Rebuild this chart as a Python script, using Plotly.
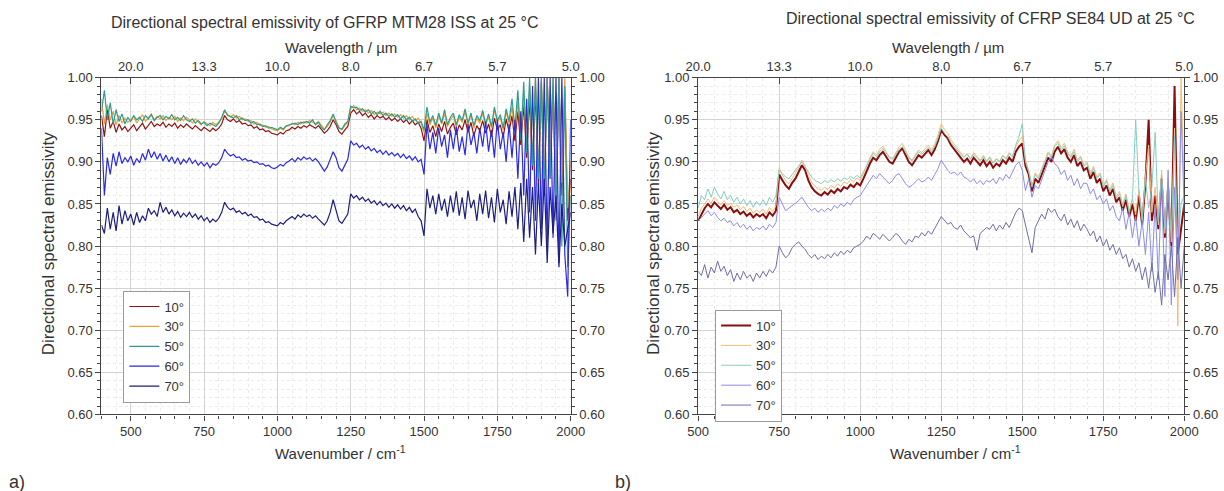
import plotly.graph_objects as go

# ---------------- data ----------------
wn_a = list(range(400, 2001, 10))
wn_b = list(range(500, 2001, 10))
angles = ["10°", "30°", "50°", "60°", "70°"]
wavelength_ticks = [500, 750, 1000, 1250, 1500, 1750, 2000]
wavelength_text = ["20.0", "13.3", "10.0", "8.0", "6.7", "5.7", "5.0"]
wavenumber_ticks = [500, 750, 1000, 1250, 1500, 1750, 2000]

a_10 = [0.955, 0.930, 0.962, 0.940, 0.948, 0.935, 0.945, 0.938, 0.942, 0.936,
        0.940, 0.944, 0.937, 0.941, 0.946, 0.939, 0.943, 0.948, 0.942, 0.945,
        0.943, 0.947, 0.941, 0.945, 0.942, 0.946, 0.940, 0.944, 0.941, 0.945,
        0.942, 0.939, 0.943, 0.940, 0.937, 0.941, 0.938, 0.936, 0.940, 0.937,
        0.940, 0.945, 0.955, 0.950, 0.948, 0.951, 0.947, 0.949, 0.945, 0.946,
        0.943, 0.944, 0.940, 0.942, 0.938, 0.939, 0.936, 0.937, 0.934, 0.933,
        0.932, 0.935, 0.933, 0.937, 0.938, 0.941, 0.939, 0.942, 0.940, 0.943,
        0.941, 0.944, 0.942, 0.940, 0.943, 0.939, 0.934, 0.937, 0.942, 0.950,
        0.944, 0.936, 0.933, 0.938, 0.942, 0.958, 0.962, 0.957, 0.960, 0.955,
        0.958, 0.953, 0.956, 0.951, 0.955, 0.952, 0.954, 0.950, 0.953, 0.949,
        0.952, 0.948, 0.951, 0.947, 0.950, 0.945, 0.949, 0.944, 0.947, 0.940,
        0.925, 0.950, 0.935, 0.943, 0.930, 0.945, 0.936, 0.948, 0.933, 0.941,
        0.946, 0.932, 0.944, 0.938, 0.950, 0.935, 0.947, 0.931, 0.943, 0.937,
        0.949, 0.934, 0.945, 0.930, 0.952, 0.938, 0.944, 0.929, 0.951, 0.936,
        0.955, 0.925, 0.960, 0.920, 0.968, 0.905, 0.975, 0.890, 0.985, 0.870,
        0.995, 0.860, 1.000, 0.880, 0.990, 0.840, 1.000, 0.860, 0.985, 0.830,
        0.880]
a_30 = [0.975, 0.945, 0.968, 0.950, 0.960, 0.944, 0.955, 0.946, 0.952, 0.947,
        0.950, 0.954, 0.946, 0.951, 0.956, 0.948, 0.953, 0.957, 0.950, 0.954,
        0.951, 0.955, 0.949, 0.953, 0.950, 0.954, 0.948, 0.952, 0.949, 0.953,
        0.950, 0.946, 0.951, 0.947, 0.944, 0.948, 0.945, 0.943, 0.947, 0.944,
        0.947, 0.951, 0.960, 0.956, 0.953, 0.956, 0.952, 0.954, 0.950, 0.951,
        0.948, 0.949, 0.945, 0.947, 0.943, 0.944, 0.941, 0.942, 0.939, 0.938,
        0.937, 0.940, 0.938, 0.942, 0.943, 0.946, 0.944, 0.947, 0.945, 0.948,
        0.946, 0.949, 0.947, 0.945, 0.948, 0.944, 0.939, 0.942, 0.947, 0.955,
        0.949, 0.941, 0.938, 0.943, 0.947, 0.963, 0.967, 0.962, 0.964, 0.960,
        0.962, 0.958, 0.961, 0.956, 0.959, 0.957, 0.959, 0.955, 0.958, 0.954,
        0.957, 0.953, 0.956, 0.952, 0.955, 0.950, 0.954, 0.949, 0.952, 0.946,
        0.935, 0.958, 0.944, 0.952, 0.940, 0.955, 0.945, 0.957, 0.942, 0.950,
        0.955, 0.941, 0.953, 0.947, 0.960, 0.944, 0.956, 0.940, 0.952, 0.946,
        0.958, 0.943, 0.954, 0.940, 0.962, 0.947, 0.953, 0.938, 0.960, 0.945,
        0.965, 0.935, 0.972, 0.930, 0.980, 0.915, 0.990, 0.900, 1.000, 0.885,
        1.000, 0.870, 1.000, 0.895, 1.000, 0.850, 1.000, 0.875, 1.000, 0.845,
        0.900]
a_50 = [0.960, 0.985, 0.950, 0.970, 0.945, 0.962, 0.948, 0.957, 0.945, 0.953,
        0.948, 0.955, 0.950, 0.953, 0.948, 0.955, 0.951, 0.956, 0.949, 0.953,
        0.955, 0.950, 0.954, 0.951, 0.956, 0.950, 0.953, 0.949, 0.955, 0.950,
        0.948, 0.951, 0.946, 0.949, 0.945, 0.947, 0.943, 0.946, 0.944, 0.942,
        0.946, 0.953, 0.962, 0.955, 0.954, 0.952, 0.955, 0.950, 0.952, 0.949,
        0.950, 0.946, 0.948, 0.944, 0.945, 0.942, 0.943, 0.940, 0.941, 0.939,
        0.938, 0.941, 0.939, 0.943, 0.944, 0.945, 0.946, 0.944, 0.947, 0.946,
        0.948, 0.946, 0.950, 0.944, 0.947, 0.941, 0.938, 0.944, 0.949, 0.957,
        0.947, 0.940, 0.939, 0.945, 0.948, 0.966, 0.964, 0.965, 0.961, 0.963,
        0.959, 0.962, 0.957, 0.960, 0.956, 0.960, 0.955, 0.958, 0.954, 0.957,
        0.953, 0.956, 0.951, 0.955, 0.950, 0.953, 0.948, 0.951, 0.946, 0.948,
        0.938, 0.965, 0.947, 0.955, 0.943, 0.958, 0.946, 0.962, 0.944, 0.953,
        0.958, 0.944, 0.956, 0.949, 0.963, 0.946, 0.958, 0.943, 0.955, 0.949,
        0.961, 0.945, 0.957, 0.942, 0.965, 0.949, 0.956, 0.940, 0.963, 0.948,
        0.975, 0.940, 0.985, 0.925, 0.995, 0.910, 1.000, 0.895, 1.000, 0.880,
        1.000, 0.865, 1.000, 0.880, 1.000, 0.830, 1.000, 0.800, 0.990, 0.775,
        0.860]
a_60 = [0.940, 0.860, 0.905, 0.885, 0.910, 0.895, 0.912, 0.898, 0.905, 0.900,
        0.907, 0.896, 0.904, 0.899, 0.910, 0.902, 0.915, 0.905, 0.912, 0.903,
        0.910, 0.901, 0.908, 0.900, 0.906, 0.898, 0.905, 0.897, 0.903, 0.899,
        0.905, 0.898, 0.902, 0.896, 0.900, 0.895, 0.899, 0.893, 0.898, 0.896,
        0.899, 0.905, 0.915, 0.910, 0.907, 0.909, 0.905, 0.906, 0.902, 0.904,
        0.901, 0.902, 0.899, 0.900, 0.897, 0.898, 0.895, 0.896, 0.893, 0.892,
        0.894, 0.897, 0.895, 0.899, 0.901, 0.904, 0.900, 0.905, 0.902, 0.906,
        0.903, 0.905, 0.901, 0.904, 0.900, 0.895, 0.889, 0.894, 0.903, 0.912,
        0.905, 0.893, 0.889, 0.896, 0.903, 0.925, 0.920, 0.922, 0.917, 0.920,
        0.915, 0.918, 0.913, 0.916, 0.911, 0.914, 0.909, 0.913, 0.908, 0.911,
        0.907, 0.910, 0.905, 0.909, 0.904, 0.907, 0.902, 0.906, 0.900, 0.903,
        0.885, 0.945, 0.915, 0.935, 0.910, 0.940, 0.918, 0.932, 0.905, 0.938,
        0.915, 0.942, 0.912, 0.930, 0.908, 0.945, 0.920, 0.935, 0.910, 0.940,
        0.918, 0.948, 0.912, 0.938, 0.905, 0.950, 0.915, 0.935, 0.900, 0.945,
        0.905, 0.950, 0.880, 0.960, 0.860, 0.975, 0.840, 0.990, 0.830, 1.000,
        0.820, 1.000, 0.800, 1.000, 0.810, 1.000, 0.780, 1.000, 0.790, 0.740,
        0.950]
a_70 = [0.825, 0.815, 0.845, 0.820, 0.840, 0.818, 0.848, 0.826, 0.842, 0.830,
        0.838, 0.825, 0.840, 0.828, 0.836, 0.830, 0.845, 0.838, 0.842, 0.835,
        0.852, 0.840, 0.846, 0.838, 0.843, 0.836, 0.841, 0.834, 0.839, 0.835,
        0.840, 0.834, 0.838, 0.832, 0.836, 0.830, 0.834, 0.828, 0.832, 0.829,
        0.833, 0.840, 0.852, 0.846, 0.843, 0.845, 0.840, 0.842, 0.838, 0.840,
        0.836, 0.838, 0.834, 0.835, 0.831, 0.832, 0.828, 0.829, 0.826, 0.825,
        0.824, 0.828, 0.826, 0.830, 0.832, 0.835, 0.832, 0.837, 0.834, 0.838,
        0.835, 0.837, 0.833, 0.836, 0.832, 0.828, 0.825, 0.830, 0.840, 0.855,
        0.842, 0.830, 0.827, 0.832, 0.838, 0.862, 0.857, 0.860, 0.855, 0.858,
        0.853, 0.856, 0.851, 0.854, 0.849, 0.853, 0.848, 0.851, 0.846, 0.850,
        0.845, 0.849, 0.844, 0.848, 0.842, 0.846, 0.840, 0.844, 0.835, 0.830,
        0.812, 0.868, 0.845, 0.860, 0.838, 0.862, 0.842, 0.856, 0.835, 0.860,
        0.840, 0.865, 0.836, 0.858, 0.832, 0.866, 0.845, 0.855, 0.830, 0.862,
        0.838, 0.866, 0.833, 0.858, 0.828, 0.868, 0.840, 0.855, 0.826, 0.865,
        0.835, 0.870, 0.820, 0.875, 0.805, 0.880, 0.810, 0.870, 0.790, 0.875,
        0.800, 0.880, 0.780, 0.870, 0.815, 0.860, 0.775, 0.850, 0.800, 0.820,
        0.840]

b_10 = [0.830, 0.838, 0.845, 0.850, 0.846, 0.852, 0.848, 0.844, 0.849, 0.843,
        0.846, 0.840, 0.843, 0.838, 0.841, 0.836, 0.839, 0.834, 0.838, 0.835,
        0.838, 0.833, 0.840, 0.836, 0.842, 0.885, 0.878, 0.872, 0.868, 0.875,
        0.880, 0.888, 0.896, 0.890, 0.878, 0.870, 0.865, 0.862, 0.860, 0.864,
        0.861, 0.866, 0.863, 0.868, 0.865, 0.870, 0.868, 0.873, 0.870, 0.875,
        0.872, 0.880, 0.890, 0.898, 0.905, 0.902, 0.908, 0.912, 0.906, 0.900,
        0.898, 0.905, 0.912, 0.916, 0.908, 0.900, 0.896, 0.902, 0.908, 0.905,
        0.910, 0.914, 0.908, 0.915, 0.925, 0.938, 0.932, 0.928, 0.920, 0.915,
        0.910, 0.905, 0.900, 0.904, 0.898, 0.905, 0.900, 0.896, 0.902, 0.895,
        0.900, 0.893, 0.898, 0.895, 0.902, 0.898, 0.905, 0.900, 0.912, 0.918,
        0.922, 0.895, 0.885, 0.865, 0.880, 0.875, 0.885, 0.895, 0.905, 0.900,
        0.912, 0.918, 0.910, 0.915, 0.905, 0.900, 0.908, 0.895, 0.900, 0.890,
        0.893, 0.880, 0.888, 0.875, 0.880, 0.865, 0.872, 0.860, 0.868, 0.852,
        0.858, 0.842, 0.855, 0.835, 0.850, 0.830, 0.860, 0.825, 0.875, 0.950,
        0.830, 0.860, 0.820, 0.880, 0.810, 0.870, 0.800, 0.990, 0.790, 0.820,
        0.850]
b_30 = [0.835, 0.845, 0.850, 0.856, 0.851, 0.858, 0.853, 0.849, 0.854, 0.848,
        0.851, 0.846, 0.849, 0.843, 0.847, 0.841, 0.845, 0.839, 0.843, 0.840,
        0.844, 0.838, 0.846, 0.841, 0.848, 0.893, 0.884, 0.878, 0.874, 0.880,
        0.886, 0.893, 0.902, 0.895, 0.884, 0.876, 0.871, 0.868, 0.866, 0.870,
        0.867, 0.872, 0.869, 0.874, 0.871, 0.876, 0.874, 0.879, 0.876, 0.881,
        0.878, 0.886, 0.896, 0.905, 0.912, 0.908, 0.915, 0.919, 0.912, 0.906,
        0.904, 0.911, 0.918, 0.922, 0.914, 0.906, 0.902, 0.908, 0.914, 0.911,
        0.916, 0.920, 0.914, 0.921, 0.932, 0.945, 0.938, 0.934, 0.926, 0.921,
        0.916, 0.911, 0.906, 0.910, 0.904, 0.911, 0.906, 0.902, 0.908, 0.901,
        0.906, 0.899, 0.904, 0.901, 0.908, 0.904, 0.911, 0.906, 0.918, 0.925,
        0.930, 0.902, 0.890, 0.872, 0.887, 0.882, 0.892, 0.903, 0.912, 0.907,
        0.920, 0.925, 0.917, 0.922, 0.912, 0.907, 0.915, 0.902, 0.907, 0.897,
        0.900, 0.887, 0.895, 0.882, 0.887, 0.872, 0.879, 0.867, 0.875, 0.859,
        0.865, 0.849, 0.862, 0.842, 0.857, 0.837, 0.867, 0.832, 0.882, 0.920,
        0.840, 0.870, 0.825, 0.890, 0.815, 0.880, 0.805, 0.940, 0.705, 1.000,
        0.860]
b_50 = [0.845, 0.860, 0.855, 0.868, 0.858, 0.870, 0.862, 0.856, 0.865, 0.855,
        0.860, 0.852, 0.858, 0.850, 0.856, 0.848, 0.854, 0.846, 0.853, 0.848,
        0.855, 0.848, 0.858, 0.852, 0.860, 0.890, 0.886, 0.882, 0.880, 0.885,
        0.890, 0.895, 0.900, 0.894, 0.888, 0.882, 0.878, 0.876, 0.874, 0.878,
        0.875, 0.879, 0.876, 0.880, 0.877, 0.881, 0.879, 0.883, 0.880, 0.884,
        0.881, 0.888, 0.896, 0.903, 0.910, 0.906, 0.912, 0.916, 0.910, 0.905,
        0.903, 0.909, 0.915, 0.918, 0.911, 0.905, 0.901, 0.906, 0.912, 0.909,
        0.913, 0.917, 0.912, 0.918, 0.928, 0.940, 0.934, 0.930, 0.923, 0.918,
        0.914, 0.909, 0.905, 0.909, 0.903, 0.909, 0.905, 0.901, 0.906, 0.900,
        0.905, 0.898, 0.903, 0.900, 0.907, 0.903, 0.910, 0.906, 0.920, 0.930,
        0.945, 0.900, 0.888, 0.870, 0.885, 0.880, 0.890, 0.900, 0.910, 0.905,
        0.918, 0.922, 0.914, 0.919, 0.910, 0.905, 0.912, 0.900, 0.905, 0.895,
        0.898, 0.885, 0.892, 0.880, 0.885, 0.870, 0.877, 0.865, 0.872, 0.857,
        0.862, 0.847, 0.860, 0.840, 0.855, 0.950, 0.865, 0.830, 0.880, 0.845,
        0.870, 0.935, 0.830, 0.885, 0.820, 0.875, 0.810, 0.930, 0.800, 0.850,
        0.860]
b_60 = [0.830, 0.834, 0.838, 0.842, 0.836, 0.840, 0.834, 0.830, 0.833, 0.828,
        0.830, 0.824, 0.828, 0.822, 0.826, 0.820, 0.824, 0.818, 0.822, 0.820,
        0.824, 0.819, 0.826, 0.822, 0.828, 0.858, 0.850, 0.842, 0.845, 0.848,
        0.850, 0.854, 0.858, 0.852, 0.846, 0.842, 0.845, 0.840, 0.844, 0.841,
        0.845, 0.842, 0.848, 0.845, 0.850, 0.847, 0.852, 0.849, 0.855, 0.858,
        0.860, 0.866, 0.872, 0.878, 0.884, 0.880, 0.886, 0.882, 0.878, 0.874,
        0.878, 0.884, 0.886, 0.880, 0.874, 0.870, 0.872, 0.876, 0.880, 0.876,
        0.878, 0.882, 0.878, 0.885, 0.892, 0.902, 0.896, 0.890, 0.886, 0.888,
        0.884, 0.888, 0.882, 0.880, 0.876, 0.880, 0.874, 0.878, 0.873, 0.878,
        0.876, 0.880, 0.874, 0.882, 0.878, 0.885, 0.880, 0.888, 0.896, 0.900,
        0.890, 0.866, 0.880, 0.858, 0.872, 0.868, 0.878, 0.888, 0.900, 0.906,
        0.898, 0.894, 0.885, 0.890, 0.878, 0.884, 0.872, 0.880, 0.868, 0.875,
        0.874, 0.862, 0.868, 0.855, 0.860, 0.850, 0.856, 0.842, 0.848, 0.835,
        0.830, 0.845, 0.820, 0.840, 0.810, 0.835, 0.800, 0.830, 0.790, 0.840,
        0.770, 0.850, 0.760, 0.880, 0.740, 0.890, 0.730, 0.870, 0.760, 0.960,
        0.840]
b_70 = [0.770, 0.765, 0.778, 0.762, 0.775, 0.768, 0.782, 0.770, 0.776, 0.765,
        0.772, 0.758, 0.768, 0.760, 0.770, 0.762, 0.766, 0.758, 0.768, 0.762,
        0.770, 0.764, 0.772, 0.768, 0.775, 0.800, 0.792, 0.786, 0.790, 0.798,
        0.802, 0.805, 0.800, 0.796, 0.790, 0.786, 0.790, 0.784, 0.788, 0.785,
        0.790, 0.786, 0.792, 0.788, 0.794, 0.790, 0.795, 0.792, 0.798, 0.800,
        0.802, 0.806, 0.812, 0.808, 0.815, 0.812, 0.808, 0.814, 0.810, 0.806,
        0.810, 0.815, 0.812, 0.806, 0.802, 0.808, 0.805, 0.812, 0.810, 0.816,
        0.812, 0.818, 0.814, 0.822, 0.828, 0.835, 0.830, 0.826, 0.828, 0.822,
        0.820, 0.825, 0.818, 0.814, 0.810, 0.812, 0.795, 0.815, 0.818, 0.822,
        0.820, 0.826, 0.818, 0.825, 0.820, 0.828, 0.822, 0.832, 0.840, 0.845,
        0.842, 0.825, 0.810, 0.792, 0.822, 0.830, 0.838, 0.832, 0.845, 0.840,
        0.844, 0.835, 0.830, 0.838, 0.825, 0.832, 0.822, 0.830, 0.818, 0.826,
        0.820, 0.812, 0.818, 0.805, 0.812, 0.800, 0.808, 0.795, 0.802, 0.790,
        0.798, 0.785, 0.790, 0.775, 0.785, 0.770, 0.780, 0.760, 0.775, 0.750,
        0.780, 0.745, 0.770, 0.730, 0.790, 0.760, 0.800, 0.740, 0.810, 0.750,
        0.800]

series_a = [a_10, a_30, a_50, a_60, a_70]
series_b = [b_10, b_30, b_50, b_60, b_70]

# ---------------- style ----------------
FONT = "Liberation Sans, Arial, sans-serif"
colors_a = ["#8E1414", "#F0A030", "#2E9C92", "#2A2AE0", "#1E1E7C"]
colors_b = ["#8A0E0E", "#F3BB78", "#86CDBF", "#8C8CE6", "#6E6EA6"]
widths_a = [1.2, 1.2, 1.2, 1.2, 1.2]
widths_b = [2.0, 1.0, 1.0, 1.0, 1.0]

W, H = 1224, 491


def fx(p):
    """target pixel column -> paper x (small empirical correction)"""
    return ((p - 9.2) / 0.9817) / W


def fy(p):
    """target pixel row (from top) -> paper y (small empirical correction)"""
    return (H - (p - 6.3) / 0.970) / H


fig = go.Figure()
for name, ys, c, w in zip(angles, series_a, colors_a, widths_a):
    fig.add_trace(go.Scatter(x=wn_a, y=ys, mode="lines", name=name,
                             line=dict(color=c, width=w),
                             xaxis="x", yaxis="y", legend="legend"))
for name, ys, c, w in zip(angles, series_b, colors_b, widths_b):
    fig.add_trace(go.Scatter(x=wn_b, y=ys, mode="lines", name=name,
                             line=dict(color=c, width=w),
                             xaxis="x2", yaxis="y2", legend="legend2"))

# invisible helpers so the secondary (top/right) axes are drawn
for xa, ya in [("x3", "y"), ("x4", "y2"), ("x", "y3"), ("x2", "y4")]:
    fig.add_trace(go.Scatter(x=[None], y=[None], xaxis=xa, yaxis=ya,
                             showlegend=False, hoverinfo="skip"))

xdom_a = [fx(98), fx(569)]
xdom_b = [fx(697), fx(1185)]
ydom = [fy(414), fy(77)]

tickfont = dict(family=FONT, size=13, color="#333")
line_col = "#444"
grid_major = "#D4D4D4"
grid_minor = "#EBEBEB"


def xbottom(dom, rng, anchor):
    return dict(domain=dom, range=rng, anchor=anchor, tickvals=wavenumber_ticks,
                showline=True, linecolor=line_col, linewidth=1.2,
                ticks="outside", ticklen=5, tickcolor=line_col, tickfont=tickfont,
                showgrid=True, gridcolor=grid_major, gridwidth=1, zeroline=False,
                minor=dict(dtick=50, tick0=0, ticks="outside", ticklen=3, tickcolor=line_col,
                           showgrid=True, gridcolor=grid_minor, griddash="dot"))


def xtop(overlay, rng, anchor):
    return dict(overlaying=overlay, side="top", range=rng, anchor=anchor,
                tickvals=wavelength_ticks, ticktext=wavelength_text,
                showline=True, linecolor=line_col, linewidth=1.2,
                ticks="inside", ticklen=6, tickcolor=line_col, tickfont=tickfont,
                showgrid=False, zeroline=False)


def yleft(anchor):
    return dict(domain=ydom, range=[0.6, 1.0], anchor=anchor, dtick=0.05, tick0=0.6,
                tickformat=".2f", showline=True, linecolor=line_col, linewidth=1.2,
                ticks="outside", ticklen=5, tickcolor=line_col, tickfont=tickfont,
                showgrid=True, gridcolor=grid_major, gridwidth=1, zeroline=False,
                minor=dict(dtick=0.01, ticks="outside", ticklen=3, tickcolor=line_col,
                           showgrid=True, gridcolor=grid_minor, griddash="dot"))


def yright(overlay, anchor):
    return dict(overlaying=overlay, side="right", range=[0.6, 1.0], anchor=anchor,
                dtick=0.05, tick0=0.6, tickformat=".2f",
                showline=True, linecolor=line_col, linewidth=1.2,
                ticks="outside", ticklen=5, tickcolor=line_col, tickfont=tickfont,
                showgrid=False, zeroline=False,
                minor=dict(dtick=0.01, ticks="outside", ticklen=3, tickcolor=line_col))


legend_common = dict(xanchor="left", yanchor="top", bgcolor="white",
                     bordercolor="#9A9A9A", borderwidth=1,
                     font=dict(family=FONT, size=13, color="#333"),
                     tracegroupgap=0, itemwidth=30)

fig.update_layout(
    width=W, height=H,
    margin=dict(l=0, r=0, t=0, b=0),
    paper_bgcolor="white", plot_bgcolor="white",
    font=dict(family=FONT, color="#333"),
    xaxis=xbottom(xdom_a, [400, 2000], "y"),
    xaxis2=xbottom(xdom_b, [500, 2000], "y2"),
    xaxis3=xtop("x", [400, 2000], "y"),
    xaxis4=xtop("x2", [500, 2000], "y2"),
    yaxis=yleft("x"),
    yaxis2=yleft("x2"),
    yaxis3=yright("y", "x"),
    yaxis4=yright("y2", "x2"),
    legend=dict(x=fx(120), y=fy(290), **legend_common),
    legend2=dict(x=fx(714), y=fy(309), **legend_common),
    showlegend=True,
)

annots = [
    ("Directional spectral emissivity of GFRP MTM28 ISS at 25 °C", 322, 22, 16, 0),
    ("Directional spectral emissivity of CFRP SE84 UD at 25 °C", 990, 18, 16, 0),
    ("Wavelength / µm", 338, 47, 15, 0),
    ("Wavelength / µm", 948, 47, 15, 0),
    ("Wavenumber / cm<sup>-1</sup>", 338, 452, 15, 0),
    ("Wavenumber / cm<sup>-1</sup>", 955, 452, 15, 0),
    ("Directional spectral emissivity", 45, 243, 17, -90),
    ("Directional spectral emissivity", 652, 243, 17, -90),
    ("a)", 13, 482, 18, 0),
    ("b)", 622, 482, 18, 0),
]
for text, xp, yp, size, ang in annots:
    fig.add_annotation(text=text, x=fx(xp), y=fy(yp), xref="paper", yref="paper",
                       showarrow=False, textangle=ang,
                       font=dict(family=FONT, size=size, color="#333"),
                       xanchor="center", yanchor="middle")

fig.write_html("out.html", config={"displayModeBar": False},
               post_script="document.body.style.margin='0';document.body.style.overflow='hidden';")
